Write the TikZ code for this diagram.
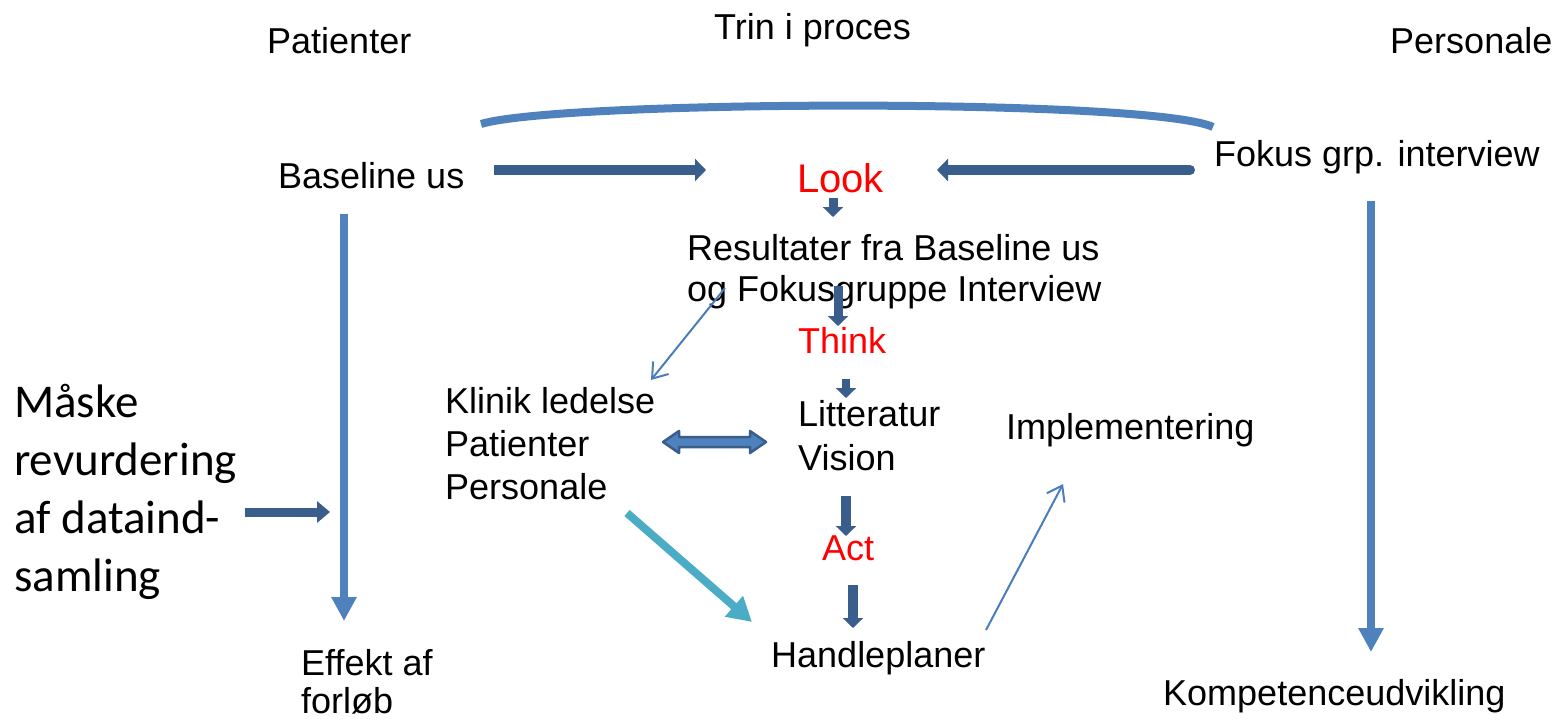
\documentclass[tikz,border=0pt]{standalone}
\usepackage{fontspec}
\setmainfont{Liberation Sans}
\newfontfamily\calfont{Carlito}
\usetikzlibrary{arrows.meta}
\definecolor{darkblue}{RGB}{58,94,140}
\definecolor{midblue}{RGB}{79,129,189}
\definecolor{thinblue}{RGB}{74,126,187}
\definecolor{tealblue}{RGB}{75,172,198}
\newcommand\stk[2]{\vtop{\baselineskip=#1\lineskiplimit=-100pt\halign{##\hfil\cr#2\crcr}}}
\begin{document}
\begin{tikzpicture}[x=1pt,y=-1pt,
  lbl/.style={inner sep=0pt,anchor=base west,font=\fontsize{36}{41}\selectfont},
  redlbl/.style={lbl,text=red},
  bigarrow/.style={darkblue,line width=10pt,-{Triangle[width=22pt,length=11pt]}},
  smallarrow/.style={darkblue,line width=9pt,-{Triangle[width=20pt,length=10pt]}},
  vertarrow/.style={midblue,line width=8pt,-{Triangle[width=24pt,length=24pt]}},
  thinarrow/.style={thinblue,line width=2pt,-{Straight Barb[length=14pt,width=20pt]}}]
\useasboundingbox (0,0) rectangle (1552,720);

% labels
\node[lbl] (patienter) at (267,53) {Patienter};
\node[lbl] (trin) at (714,39) {Trin i proces};
\node[lbl] (personale) at (1390,53) {Personale};
\node[lbl] (baseline) at (278,188) {Baseline us};
\node[redlbl,font=\fontsize{40}{46}\selectfont] (look) at (797,192) {Look};
\node[lbl] (fokus) at (1214,166) {Fokus grp. interview};
\node[lbl] (result) at (687,260) {\stk{41pt}{Resultater fra Baseline us\cr og Fokusgruppe Interview}};
\node[redlbl] (think) at (798,353) {Think};
\node[lbl] (klinik) at (445,413) {\stk{43pt}{Klinik ledelse\cr Patienter\cr Personale}};
\node[lbl] (litt) at (798,426) {\stk{44pt}{Litteratur\cr Vision}};
\node[lbl] (impl) at (1006,439) {Implementering};
\node[redlbl] (act) at (822,560) {Act};
\node[lbl] (handle) at (771,667) {Handleplaner};
\node[lbl] (effekt) at (301,675) {\stk{38pt}{Effekt af\cr forløb}};
\node[lbl] (kompet) at (1163,705) {Kompetenceudvikling};
\node[inner sep=0pt,anchor=base west,font=\calfont\fontsize{47}{58}\selectfont] (maaske) at (14,417)
  {\stk{58pt}{Måske\cr revurdering\cr af dataind-\cr samling}};

% coordinates for connector ends
\coordinate (arcL) at (481,124);
\coordinate (arcR) at (1213,127);
\coordinate (bA) at (494,170);  \coordinate (bB) at (706,170);
\coordinate (fA) at (1190,170); \coordinate (fB) at (937,170);
\coordinate (l1) at (833,198);  \coordinate (l2) at (833,217);
\coordinate (r1) at (838,286);  \coordinate (r2) at (838,326);
\coordinate (t1) at (846,379);  \coordinate (t2) at (846,398);
\coordinate (v1) at (846,496);  \coordinate (v2) at (846,536);
\coordinate (a1) at (853,585);  \coordinate (a2) at (853,628);
\coordinate (thA) at (725,288); \coordinate (thB) at (651,380);
\coordinate (imA) at (986,630); \coordinate (imB) at (1063,484);
\coordinate (teA) at (627,513); \coordinate (teB) at (752,622);
\coordinate (bv1) at (344,214); \coordinate (bv2) at (344,621);
\coordinate (fv1) at (1371,201); \coordinate (fv2) at (1371,652);
\coordinate (m1) at (245,512);  \coordinate (m2) at (330,512);
\coordinate (dL) at (663,442);  \coordinate (dR) at (766,442);

% top arc
\draw[midblue,line width=8pt] (arcL) .. controls (560,100) and (1150,98) .. (arcR);

% arrows
\draw[bigarrow] (bA) -- (bB);
\draw[bigarrow,line cap=round] (fA) -- (fB);
\draw[smallarrow] (l1) -- (l2);
\draw[smallarrow] (r1) -- (r2);
\draw[smallarrow,line width=8pt] (t1) -- (t2);
\draw[smallarrow,line width=10pt] (v1) -- (v2);
\draw[smallarrow,line width=10pt] (a1) -- (a2);
\draw[thinarrow] (thA) -- (thB);
\draw[thinarrow] (imA) -- (imB);
\draw[tealblue,line width=8pt,-{Triangle[width=26pt,length=24pt]}] (teA) -- (teB);
\draw[vertarrow] (bv1) -- (bv2);
\draw[vertarrow] (fv1) -- (fv2);
\draw[darkblue,line width=9pt,-{Triangle[width=21pt,length=13pt]}] (m1) -- (m2);

% double arrow
\filldraw[fill=midblue,draw=darkblue,line width=2.5pt,line join=round]
  (dL) -- ++(16,-11) -- ++(0,6) -- ++(71,0) -- ++(0,-6) -- (dR)
  -- ++(-16,11) -- ++(0,-6) -- ++(-71,0) -- ++(0,6) -- cycle;
\end{tikzpicture}
\end{document}
